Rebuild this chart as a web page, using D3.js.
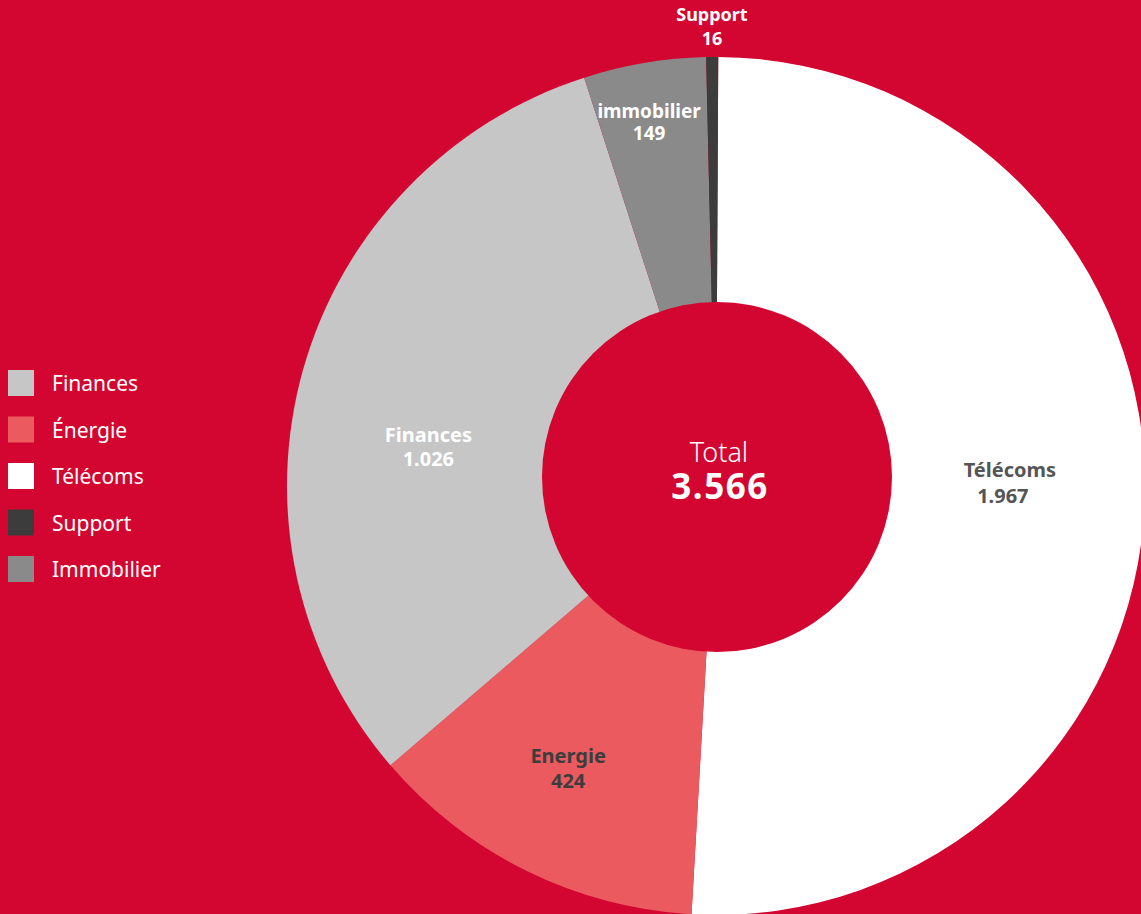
<!DOCTYPE html>
<html>
<head>
  <meta charset="utf-8" />
  <title>Total 3.566</title>
  <script src="https://d3js.org/d3.v7.min.js"></script>
  <style>
    html, body { margin: 0; padding: 0; background: #d20630; overflow: hidden; }
    svg { display: block; font-family: "Noto Sans", sans-serif; }
    .legend text { fill: #fff; font-size: 21px; }
    .slice-label { font-weight: 700; font-size: 20px; text-anchor: middle; }
  </style>
</head>
<body>
  <script>
    // - - - - - DATA - - - - - //
    // slices clockwise from the top
    var categories   = ["Télécoms", "Energie", "Finances", "immobilier", "Support"];
    var valueLabels  = ["1.967", "424", "1.026", "149", "16"];
    // arc share (%) as drawn in the picture
    var shares       = [50.8, 12.8, 31.3, 4.6, 0.45];
    var totalLabel   = "3.566";

    var legendNames  = ["Finances", "Énergie", "Télécoms", "Support", "Immobilier"];
    var legendColors = ["#c6c6c6", "#ea5a5f", "#ffffff", "#3c3c3c", "#8a8a8a"];

    // - - - - - LAYOUT - - - - - //
    var width = 1141, height = 914;
    var cx = 716, cy = 486, outerR = 429;
    var hole = {x: 717, y: 477, r: 175};

    var sliceColor = d3.scaleOrdinal()
        .domain(categories)
        .range(["#ffffff", "#ea5a5f", "#c6c6c6", "#8a8a8a", "#3c3c3c"]);
    var textColor = d3.scaleOrdinal()
        .domain(categories)
        .range(["#555555", "#3d3d3d", "#ffffff", "#ffffff", "#ffffff"]);

    // label anchor (angle deg, radius) for first baseline, line step, font size
    var labelPlace = [[88.2, 294], [208.1, 314], [278.7, 291], [349.7, 374], [359.5, 465]];
    var labelStep  = [26, 25, 24, 22, 24];
    var labelSize  = [20, 20, 20, 19, 18];

    var svg = d3.select("body").append("svg")
        .attr("width", width)
        .attr("height", height);

    svg.append("rect")
        .attr("width", width).attr("height", height)
        .attr("fill", "#d20630");

    var start = 0.3 * Math.PI / 180;
    var pie = d3.pie()
        .sort(null)
        .value(function(d) { return d; })
        .startAngle(start)
        .endAngle(2 * Math.PI + start);

    var arc = d3.arc().innerRadius(0).outerRadius(outerR);

    var g = svg.append("g")
        .attr("transform", "translate(" + cx + "," + cy + ")");

    g.selectAll("path")
        .data(pie(shares))
      .enter().append("path")
        .attr("d", arc)
        .attr("fill", function(d, i) { return sliceColor(categories[i]); });

    // donut hole
    svg.append("circle")
        .attr("cx", hole.x).attr("cy", hole.y).attr("r", hole.r)
        .attr("fill", "#d20630");

    // slice labels
    var labels = g.selectAll(".slice-label")
        .data(categories)
      .enter().append("text")
        .attr("class", "slice-label")
        .style("font-size", function(d, i) { return labelSize[i] + "px"; })
        .attr("fill", function(d) { return textColor(d); })
        .attr("transform", function(d, i) {
          var a = labelPlace[i][0] * Math.PI / 180, r = labelPlace[i][1];
          return "translate(" + (r * Math.sin(a)) + "," + (-r * Math.cos(a)) + ")";
        });
    labels.append("tspan")
        .attr("x", 0).attr("y", 0)
        .text(function(d) { return d; });
    labels.append("tspan")
        .attr("x", function(d, i) { return i === 0 ? -7 : 0; })
        .attr("y", function(d, i) { return labelStep[i]; })
        .text(function(d, i) { return valueLabels[i]; });

    // centre text
    svg.append("text")
        .attr("x", 719).attr("y", 462)
        .attr("text-anchor", "middle")
        .attr("fill", "#fff")
        .style("font-size", "27px")
        .style("font-weight", 300)
        .text("Total");
    svg.append("text")
        .attr("x", 720).attr("y", 499)
        .attr("text-anchor", "middle")
        .attr("fill", "#fff")
        .style("font-size", "35px")
        .style("font-weight", 700)
        .style("letter-spacing", "1.5px")
        .text(totalLabel);

    // legend
    var ly = d3.scalePoint()
        .domain(legendNames)
        .range([370, 556]);

    var legend = svg.append("g").attr("class", "legend")
      .selectAll("g")
        .data(legendNames)
      .enter().append("g")
        .attr("transform", function(d) { return "translate(8," + ly(d) + ")"; });

    legend.append("rect")
        .attr("width", 26).attr("height", 26)
        .attr("fill", function(d, i) { return legendColors[i]; });

    legend.append("text")
        .attr("x", 44).attr("y", 21)
        .text(function(d) { return d; });
  </script>
</body>
</html>
